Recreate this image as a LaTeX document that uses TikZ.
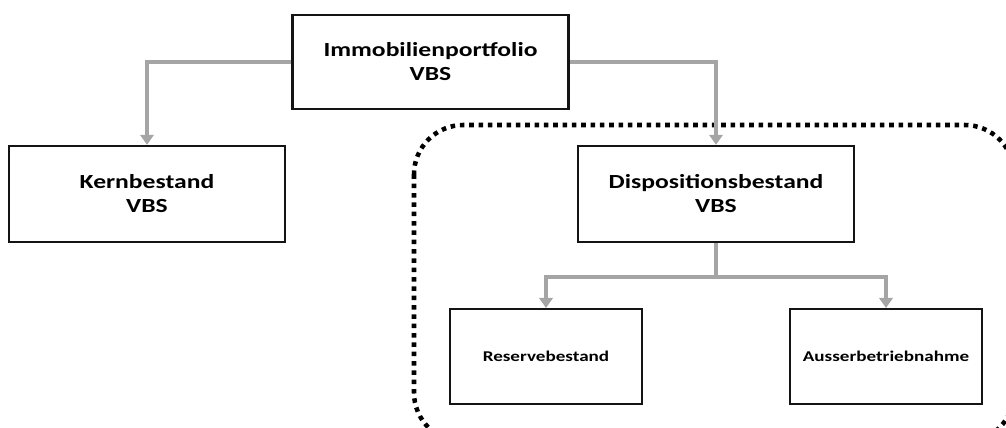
\documentclass[tikz,border=0pt]{standalone}
\usepackage{fontspec}
\setmainfont{Carlito}[FakeStretch=1.28]
\usetikzlibrary{arrows.meta}

\definecolor{linkgray}{RGB}{165,165,165}
\definecolor{boxline}{RGB}{20,20,20}

\tikzset{every picture/.style={line width=0.75pt}}
\tikzset{
  bigbox/.style={draw=boxline, line width=1.8pt, fill=white, align=center,
    minimum width=207pt, minimum height=72pt, inner sep=0pt,
    font=\bfseries\fontsize{15}{18}\selectfont},
  smallbox/.style={draw=boxline, line width=1.8pt, fill=white, align=center,
    minimum width=144pt, minimum height=71pt, inner sep=0pt,
    font=\bfseries\fontsize{11.2}{13.5}\selectfont},
  link/.style={draw=linkgray, line width=2.3pt,
    -{Triangle[width=10pt,length=7.5pt]}},
  groupframe/.style={draw=black, line width=3.4pt, dash pattern=on 3.4pt off 3.6pt,
    rounded corners=37pt}
}

\begin{document}
\begin{tikzpicture}[x=0.75pt,y=0.75pt,yscale=-1]
	\useasboundingbox (0,0) rectangle (1006,428);

	% Dotted frame round the disposition part
	\draw [groupframe] (414,125) rectangle (1014,442);

	% Draw boxes
	\node [bigbox, minimum height=70.5pt] (portfolio) at (430.5,62) {Immobilienportfolio\\VBS};
	\node [bigbox] (kern) at (147,194) {Kernbestand\\VBS};
	\node [bigbox] (dispo) at (716,194) {Dispositionsbestand\\VBS};
	\node [smallbox] (reserve) at (546,356.5) {Reservebestand};
	\node [smallbox] (ausser) at (886,356.5) {Ausserbetriebnahme};

	% Draw connectors
	\draw [link] (portfolio.west) -| (kern.north);
	\draw [link] (portfolio.east) -| (dispo.north);

	\coordinate (split) at (716,277);
	\draw [draw=linkgray, line width=2.3pt] (dispo.south) -- (split);
	\draw [link] (split) -| (reserve.north);
	\draw [link] (split) -| (ausser.north);
\end{tikzpicture}
\end{document}
